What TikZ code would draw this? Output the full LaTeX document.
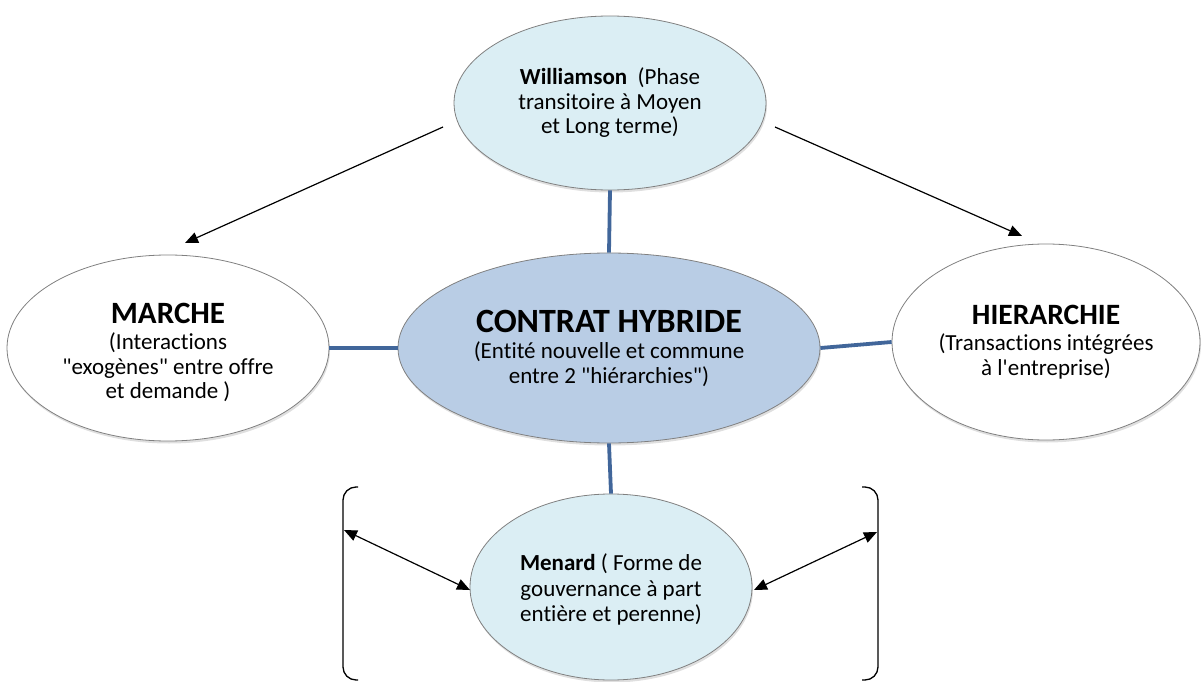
\documentclass[tikz,border=0pt]{standalone}
\usepackage{fontspec}
\setmainfont{Carlito}[Ligatures={TeXOff,CommonOff}]
\usetikzlibrary{shapes.geometric,arrows.meta,shadows}
\definecolor{lightaqua}{HTML}{DBEEF4}
\definecolor{ctrblue}{HTML}{B9CDE5}
\definecolor{linkblue}{HTML}{41669A}
\definecolor{rim}{HTML}{808080}
\tikzset{
  oval/.style={ellipse, draw=rim, line width=0.8pt, inner sep=0pt, align=center,
    drop shadow={opacity=0.25, shadow xshift=1pt, shadow yshift=-2.5pt}},
  body/.style={font=\fontsize{23}{24.5}\selectfont},
  link/.style={draw=linkblue, line width=3.8pt},
  arr/.style={-{Triangle[length=13pt,width=11pt]}, line width=1.2pt},
  darr/.style={{Triangle[length=13pt,width=11pt]}-{Triangle[length=13pt,width=11pt]}, line width=1.2pt},
  brk/.style={line width=1.3pt, rounded corners=13pt}
}
\begin{document}
\begin{tikzpicture}[x=1pt,y=-1pt]
\useasboundingbox (0,0) rectangle (1203,682);
\node[oval, fill=lightaqua, minimum width=312pt, minimum height=174pt, body] (will) at (610,103)
  {\textbf{Williamson}~ (Phase\\transitoire à Moyen\\et Long terme)};
\node[oval, fill=ctrblue, minimum width=422pt, minimum height=190pt, body] (ctr) at (609,348)
  {{\fontsize{34}{38}\selectfont\textbf{CONTRAT HYBRIDE}}\\[2pt](Entité nouvelle et commune\\entre 2 "hiérarchies")};
\node[oval, fill=white, minimum width=322pt, minimum height=186pt, body] (mar) at (168,348)
  {{\fontsize{31}{34}\selectfont\rule{0pt}{29pt}\textbf{MARCHE}}\\[2pt](Interactions\\"exogènes" entre offre\\et demande )};
\node[oval, fill=white, minimum width=308pt, minimum height=196pt, body] (hie) at (1046,342)
  {{\fontsize{29.5}{34}\selectfont\textbf{HIERARCHIE}}\\[2pt](Transactions intégrées\\à l'entreprise)};
\node[oval, fill=lightaqua, minimum width=282pt, minimum height=186pt, font=\fontsize{23}{25.5}\selectfont] (men) at (611,587)
  {\rule{0pt}{22pt}\textbf{Menard} ( Forme de\\gouvernance à part\\entière et perenne)};

\draw[link] (will.south) -- (ctr.north);
\draw[link] (mar.east) -- (ctr.west);
\draw[link] (ctr.east) -- (hie.west);
\draw[link] (ctr.south) -- (men.north);

\coordinate (a1s) at (443,127);
\coordinate (a1e) at (185,243);
\coordinate (a2s) at (775,127);
\coordinate (a2e) at (1022,236);
\draw[arr] (a1s) -- (a1e);
\draw[arr] (a2s) -- (a2e);

\draw[brk] (358,487) -| (343,680) -- (358,680);
\draw[brk] (862,487) -| (878,680) -- (862,680);

\coordinate (lb) at (344,530);
\coordinate (rb) at (877,532);
\draw[darr] (lb) -- (470,590);
\draw[darr] (754,590) -- (rb);
\end{tikzpicture}
\end{document}
